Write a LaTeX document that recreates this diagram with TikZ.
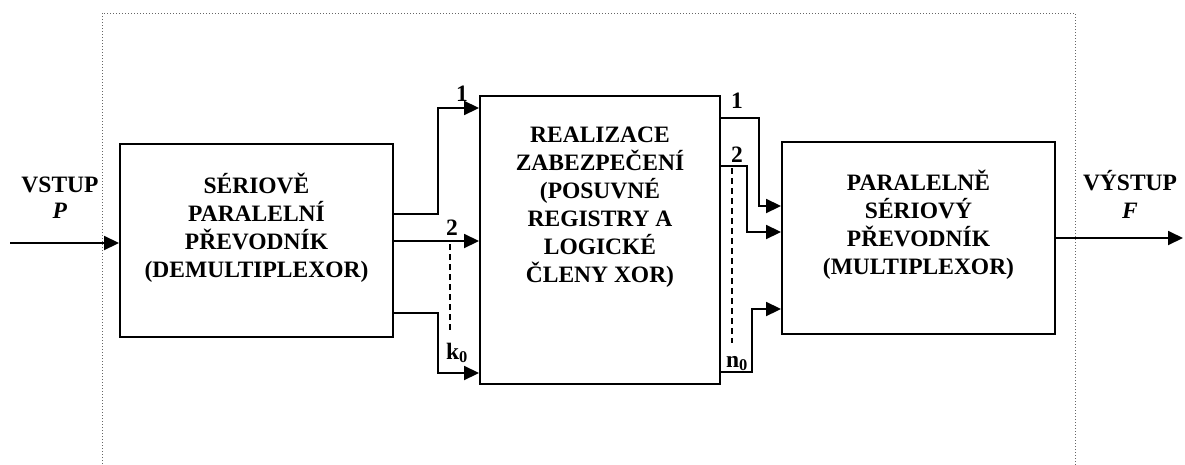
\documentclass[tikz,border=0pt]{standalone}
\usepackage{fontspec}
\setmainfont{Liberation Serif}
\usetikzlibrary{arrows.meta}
\begin{document}
\begin{tikzpicture}[x=1pt,y=-1pt,
  blk/.style={draw,line width=1.9pt,minimum width=#1,inner sep=0pt},
  txt/.style={font=\fontsize{23.5}{28}\selectfont\bfseries,align=center,inner sep=0pt},
  lbl/.style={font=\fontsize{23.5}{28}\selectfont\bfseries,inner sep=0pt,anchor=base},
  wire/.style={line width=1.8pt},
  arr/.style={wire,-{Triangle[length=15pt,width=14pt]}},
  dsh/.style={line width=1.6pt,dash pattern=on 6pt off 4pt},
  frame/.style={draw=black!60,line width=1pt,dotted}]
\useasboundingbox (0,0) rectangle (1185,464);
\draw[frame] (102,470) -- (102,13) -- (1075,13) -- (1075,470);
% blocks
\node[blk=273pt,minimum height=193pt] (b1) at (256.5,240.5) {};
\node[blk=240pt,minimum height=288pt] (b2) at (600,240) {};
\node[blk=273pt,minimum height=192pt] (b3) at (918.5,238) {};
\node[txt] (t1) at (256.5,227.5) {SÉRIOVĚ\\PARALELNÍ\\PŘEVODNÍK\\(DEMULTIPLEXOR)};
\node[txt] (t2) at (600,207) {REALIZACE\\ZABEZPEČENÍ\\(POSUVNÉ\\REGISTRY A\\LOGICKÉ\\ČLENY XOR)};
\node[txt] (t3) at (918.5,225) {PARALELNĚ\\SÉRIOVÝ\\PŘEVODNÍK\\(MULTIPLEXOR)};
% input / output
\node[lbl] (vin) at (60,192) {VSTUP};
\node[lbl] (vinp) at (60,218) {\textit{P}};
\node[lbl] (vout) at (1130,190) {VÝSTUP};
\node[lbl] (voutf) at (1130,218) {\textit{F}};
\coordinate (in) at (10,243);
\coordinate (out) at (1183,238);
\draw[arr] (in) -- (b1.west |- in);
\draw[arr] (b3.east) -- (out);
% demux -> block 2
\draw[arr] (b1.east |- 0,214) -| (438,108) -- (b2.west |- 0,108);
\draw[arr] (b1.east |- 0,241) -- (b2.west |- 0,241);
\draw[arr] (b1.east |- 0,313) -| (438,373) -- (b2.west |- 0,373);
\draw[dsh] (450,244) -- (450,333);
\node[lbl] (l1) at (462,101) {1};
\node[lbl] (l2) at (452,235) {2};
\node[lbl] (lk) at (457,359) {k\textsubscript{0}};
% block 2 -> mux
\draw[arr] (b2.east |- 0,118) -| (759,206) -- (b3.west |- 0,206);
\draw[arr] (b2.east |- 0,166) -| (747,232) -- (b3.west |- 0,232);
\draw[arr] (b2.east |- 0,372) -| (752,309) -- (b3.west |- 0,309);
\draw[dsh] (732,168) -- (732,343);
\node[lbl] (r1) at (737,108) {1};
\node[lbl] (r2) at (737,162) {2};
\node[lbl] (rn) at (737,367) {n\textsubscript{0}};
\end{tikzpicture}
\end{document}
